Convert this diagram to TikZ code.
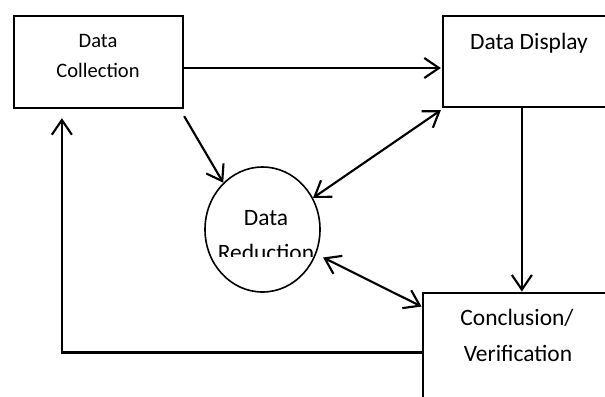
\documentclass[tikz,border=0pt]{standalone}
\usepackage{fontspec}
\setmainfont{Carlito}
\usetikzlibrary{arrows.meta,calc,shapes.geometric}

\tikzset{
  box/.style={draw, line width=1.7pt, rectangle, inner sep=0pt},
  oval/.style={draw, line width=1.2pt, ellipse, inner sep=0pt},
  lbl/.style={anchor=base, inner sep=0pt, font=\fontsize{17.6}{21}\selectfont},
  lblsmall/.style={anchor=base, inner sep=0pt, font=\fontsize{15.4}{18}\selectfont},
  barb/.style={Straight Barb[length=11pt, width=15pt, line width=1.6pt]},
  arr/.style={line width=1.6pt, -{Straight Barb[length=11pt, width=15pt, line width=1.6pt]}},
  dbl/.style={line width=1.6pt, {Straight Barb[length=11pt, width=15pt, line width=1.6pt]}-{Straight Barb[length=11pt, width=15pt, line width=1.6pt]}}
}

\begin{document}
\begin{tikzpicture}[x=0.75pt, y=-0.75pt]
  \useasboundingbox (0,0) rectangle (605,396);
  \clip (0,0) rectangle (605,396);

  % boxes and the oval
  \node[box, minimum width=126.75pt, minimum height=69pt] (dc) at (98.5,62) {};
  \node[box, minimum width=147.75pt, minimum height=68.25pt] (dd) at (541.5,61.5) {};
  \node[box, minimum width=163pt, minimum height=103pt] (cv) at (531.35,361.35) {};
  \node[oval, minimum width=86.25pt, minimum height=93.75pt] (dr) at (262.5,229.5) {};

  % labels
  \node[lblsmall] (dct1) at (98,47) {Data};
  \node[lblsmall] (dct2) at (98,77) {Collection};
  \node[lbl] (ddt) at (529,49) {Data Display};
  \node[lbl] (cvt1) at (517,325) {Conclusion/};
  \node[lbl] (cvt2) at (518,361) {Verification};
  \node[lbl] (drt1) at (266,225) {Data};
  \begin{scope}
    \clip (200,160) rectangle (330,256);
    \node[lbl] (drt2) at (266,260) {Reduction};
  \end{scope}

  % connectors
  \draw[arr] ($(dc.east)+(0,6)$) -- ($(dd.west)+(-1,6.5)$);
  \draw[arr] ($(dc.south east)+(0,7)$) -- (dr.130);
  \draw[dbl] ($(dd.south west)+(-1,2)$) -- (dr.32);
  \draw[arr] ($(dd.south west)+(80,0)$) coordinate (ddb) -- (ddb |- cv.north);
  \draw[dbl] ($(dr.-25)+(7,3)$) -- ($(cv.north west)+(0,15)$);
  \draw[arr] ($(cv.north west)+(0,61)$) -| ($(dc.south west)+(49,9)$);
\end{tikzpicture}
\end{document}
